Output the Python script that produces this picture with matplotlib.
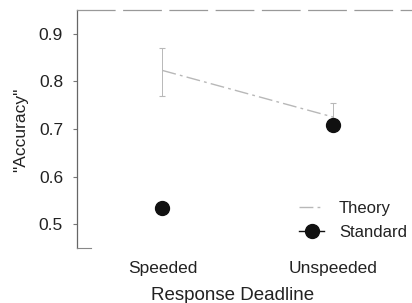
import numpy as np
import matplotlib.pyplot as plt
from matplotlib.lines import Line2D

plt.rcParams['font.family'] = ['Liberation Sans', 'DejaVu Sans']

deadlines = ['Speeded', 'Unspeeded']
theory = [0.823, 0.725]
theory_lo = [0.770, 0.700]
theory_hi = [0.870, 0.755]
standard = [0.535, 0.708]

fig = plt.figure(figsize=(4.12, 3.03), dpi=100)
ax = fig.add_axes([77 / 412, 1 - 248 / 303, 335 / 412, 238 / 303])

x = np.arange(len(deadlines))
theory = np.array(theory)
yerr = [theory - np.array(theory_lo), np.array(theory_hi) - theory]

theory_ls = (0, (10, 3, 2, 3))
ax.errorbar(x, theory, yerr=yerr, color='#b8b8b8', lw=1, ls=theory_ls,
            elinewidth=0.7, capsize=2, capthick=0.8, zorder=2)
ax.plot(x, standard, 'o', color='#111111', ms=10, zorder=3)

ax.set_xlim(-0.5, 1.46)
ax.set_ylim(0.45, 0.95)
ax.set_xticks(x)
ax.set_xticklabels(deadlines, fontsize=12.5, color='#222222')
ax.set_yticks([0.5, 0.6, 0.7, 0.8, 0.9])
ax.set_yticklabels(['0.5', '0.6', '0.7', '0.8', '0.9'], fontsize=12.5, color='#222222')
ax.tick_params(axis='x', length=0, pad=9)
ax.tick_params(axis='y', length=3, width=0.8, color='#777777', pad=7)

ax.spines['right'].set_visible(False)
ax.spines['bottom'].set_color('#888888')
ax.spines['bottom'].set_linewidth(0.8)
ax.spines['bottom'].set_bounds(-0.5, -0.42)
ax.spines['left'].set_color('#666666')
ax.spines['left'].set_linewidth(0.9)
ax.spines['top'].set_color('#999999')
ax.spines['top'].set_linewidth(0.9)
ax.spines['top'].set_linestyle((0, (30, 7)))

ax.set_ylabel('"Accuracy"', fontsize=12.5, color='#222222')
ax.yaxis.set_label_coords(-0.145, 0.496)
ax.set_xlabel('Response Deadline', fontsize=13.5, color='#222222', va='center')
ax.xaxis.set_label_coords(0.463, -0.2)

handles = [Line2D([], [], color='#b8b8b8', ls=theory_ls, lw=1),
           Line2D([], [], color='#111111', marker='o', ms=10, lw=1)]
ax.legend(handles, ['Theory', 'Standard'], loc='lower right', frameon=False,
          fontsize=12, handlelength=1.5, handletextpad=0.9, labelspacing=0.55,
          bbox_to_anchor=(1.03, -0.03), labelcolor='#222222')

fig.savefig('out.png', dpi=100)
